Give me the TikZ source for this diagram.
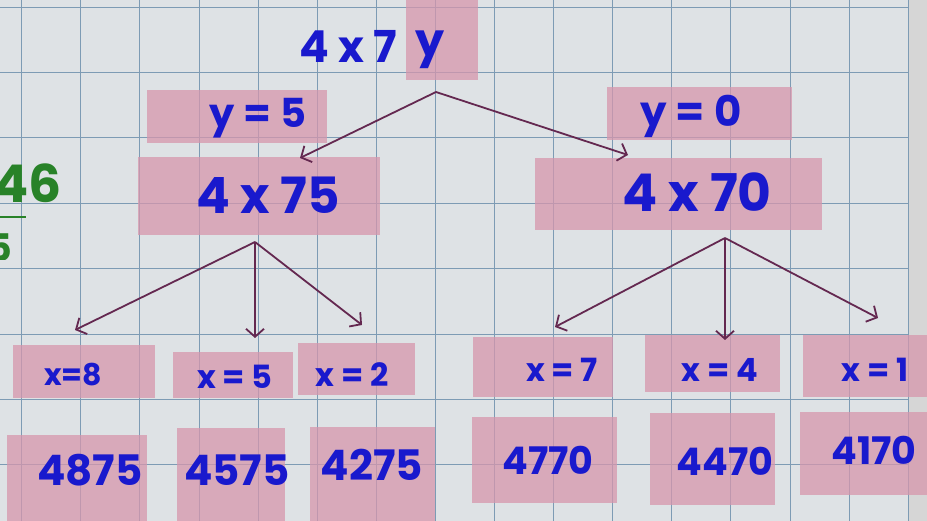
\documentclass[tikz,border=0pt]{standalone}
\usepackage{fontspec}
\setmainfont{Poppins}
\usetikzlibrary{arrows.meta}
\definecolor{paper}{RGB}{222,226,229}
\definecolor{gridc}{RGB}{125,155,180}
\definecolor{pinkc}{RGB}{214,150,172}
\definecolor{ink}{RGB}{25,25,205}
\definecolor{arrowc}{RGB}{100,40,80}
\definecolor{greenink}{RGB}{40,130,40}
\definecolor{marginc}{RGB}{214,214,214}
\tikzset{
  pinkbox/.style={fill=pinkc, fill opacity=0.75, draw=none, inner sep=0pt},
  hand/.style={text=ink, inner sep=0pt, font=\fontsize{#1}{#1}\selectfont\bfseries},
  hand/.default=32,
  conn/.style={draw=arrowc, line width=1.8pt, -{Straight Barb[length=8pt,width=18pt,line width=1.8pt]}},
  gridline/.style={draw=gridc, line width=0.9pt},
}
\begin{document}
\begin{tikzpicture}[x=1pt,y=-1pt]
\useasboundingbox (0,0) rectangle (927,521);
\clip (0,0) rectangle (927,521);
% paper and grid
\fill[paper] (0,0) rectangle (908,521);
\fill[marginc] (908,0) rectangle (927,521);
\foreach \i in {0,...,15} \draw[gridline] ({21.7+59.1*\i},0) -- ({21.7+59.1*\i},521);
\foreach \j in {0,...,7} \draw[gridline] (0,{7+65.4*\j}) -- (908,{7+65.4*\j});
% green partial fraction at left edge
\begin{scope}
\clip (0,140) rectangle (80,260);
\node[text=greenink, inner sep=0pt, font=\fontsize{52}{52}\selectfont\bfseries, anchor=east] (gfrac) at (62,183) {46};
\draw[greenink, line width=2pt] (-10,217) -- (26,217);
\node[text=greenink, inner sep=0pt, font=\fontsize{38}{38}\selectfont\bfseries] (gden) at (0,248) {5};
\end{scope}
% pink boxes
\node[pinkbox, minimum width=72pt, minimum height=80pt] (byy) at (442,40) {};
\node[pinkbox, minimum width=180pt, minimum height=53pt] (by5) at (237,116.5) {};
\node[pinkbox, minimum width=242pt, minimum height=78pt] (bm1) at (259,196) {};
\node[pinkbox, minimum width=185pt, minimum height=53pt] (by0) at (699.5,113.5) {};
\node[pinkbox, minimum width=287pt, minimum height=72pt] (bm2) at (678.5,194) {};
\node[pinkbox, minimum width=142pt, minimum height=53pt] (bx8) at (84,371.5) {};
\node[pinkbox, minimum width=120pt, minimum height=46pt] (bx5) at (233,375) {};
\node[pinkbox, minimum width=117pt, minimum height=52pt] (bx2) at (356.5,369) {};
\node[pinkbox, minimum width=140pt, minimum height=60pt] (bx7) at (543,367) {};
\node[pinkbox, minimum width=135pt, minimum height=57pt] (bx4) at (712.5,363.5) {};
\node[pinkbox, minimum width=137pt, minimum height=62pt] (bx1) at (871.5,366) {};
\node[pinkbox, minimum width=140pt, minimum height=95pt] (bv1) at (77,482.5) {};
\node[pinkbox, minimum width=108pt, minimum height=102pt] (bv2) at (231,479) {};
\node[pinkbox, minimum width=125pt, minimum height=103pt] (bv3) at (372.5,478.5) {};
\node[pinkbox, minimum width=145pt, minimum height=86pt] (bv4) at (544.5,460) {};
\node[pinkbox, minimum width=125pt, minimum height=92pt] (bv5) at (712.5,459) {};
\node[pinkbox, minimum width=140pt, minimum height=83pt] (bv6) at (870,453.5) {};
% texts
\node[hand=44] (t4x7) at (348,46) {4 x 7};
\node[hand=46] (ty) at (430,50) {y};
\node[hand=40] (ty5) at (258,118) {y = 5};
\node[hand=50] (tm1) at (268,195) {4 x 75};
\node[hand=42] (ty0) at (691,116) {y = 0};
\node[hand=52] (tm2) at (697,192) {4 x 70};
\node[hand=30] (tx8) at (73,375) {x=8};
\node[hand] (tx5) at (235,377) {x = 5};
\node[hand] (tx2) at (352,375) {x = 2};
\node[hand] (tx7) at (562,370) {x = 7};
\node[hand] (tx4) at (720,370) {x = 4};
\node[hand] (tx1) at (875,370) {x = 1};
\node[hand=42] (tv1) at (90,470) {4875};
\node[hand=42] (tv2) at (237,470) {4575};
\node[hand=42] (tv3) at (372,465) {4275};
\node[hand=38] (tv4) at (548,460) {4770};
\node[hand=38] (tv5) at (725,461) {4470};
\node[hand=38] (tv6) at (874,450) {4170};
% connector coordinates
\coordinate (a0) at (436,92);
\coordinate (e01) at (300,158);
\coordinate (e02) at (628,155);
\coordinate (a1) at (255,242);
\coordinate (e11) at (75,330);
\coordinate (e12) at (255,338);
\coordinate (e13) at (362,325);
\coordinate (a2) at (725,238);
\coordinate (e21) at (555,327);
\coordinate (e22) at (725,340);
\coordinate (e23) at (878,318);
\draw[conn] (a0) -- (e01);
\draw[conn] (a0) -- (e02);
\draw[conn] (a1) -- (e11);
\draw[conn] (a1) -- (e12);
\draw[conn] (a1) -- (e13);
\draw[conn] (a2) -- (e21);
\draw[conn] (a2) -- (e22);
\draw[conn] (a2) -- (e23);
\end{tikzpicture}
\end{document}
